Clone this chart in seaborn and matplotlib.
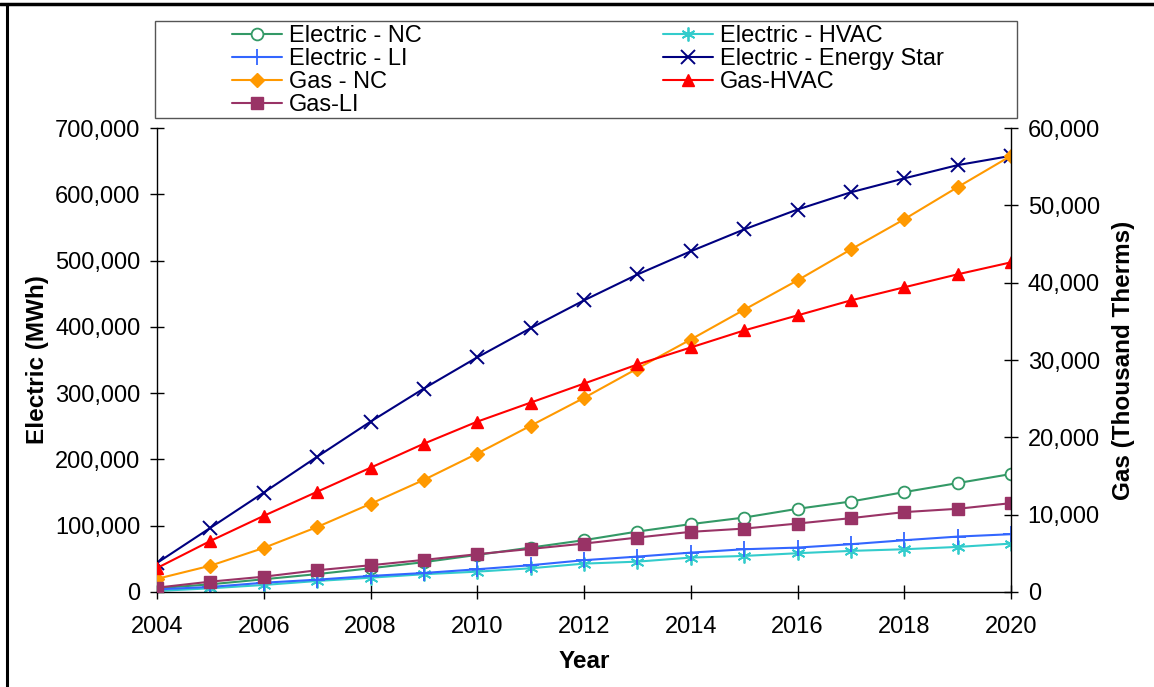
import seaborn as sns
import matplotlib.pyplot as plt
from matplotlib.lines import Line2D
from matplotlib.patches import Rectangle
from matplotlib.ticker import FuncFormatter, MultipleLocator

years = list(range(2004, 2021))

# electric series (MWh, left axis)
elec_nc = [5600, 11600, 19200, 27000, 35800, 45000, 56000, 67000, 78200, 91200,
           102400, 112300, 125500, 136500, 150700, 164300, 178000]
elec_hvac = [1500, 5600, 10600, 16600, 21600, 26800, 30700, 35800, 42800, 45800,
             51900, 54400, 58500, 62000, 64500, 68000, 73000]
elec_li = [4000, 7600, 14000, 18600, 24200, 28700, 34300, 40400, 48000, 53400,
           59400, 64500, 67000, 72100, 78100, 83600, 87200]
elec_es = [43800, 96800, 150000, 204000, 257000, 307000, 354000, 398000, 440000,
           479000, 514000, 547000, 577000, 603000, 624000, 644000, 658000]

# gas series (thousand therms, right axis)
gas_nc = [1700, 3400, 5700, 8400, 11400, 14500, 17900, 21500, 25100, 28900,
          32650, 36500, 40300, 44300, 48200, 52350, 56400]
gas_hvac = [3100, 6600, 9850, 12960, 16070, 19180, 22030, 24490, 26950, 29420,
            31620, 33820, 35770, 37710, 39400, 41080, 42630]
gas_li = [560, 1340, 1980, 2810, 3460, 4150, 4890, 5570, 6260, 7040,
          7780, 8200, 8850, 9550, 10330, 10760, 11490]

sns.set_style("ticks")
plt.rcParams['font.family'] = ['Liberation Sans', 'DejaVu Sans']
plt.rcParams['text.color'] = 'black'
plt.rcParams['axes.labelcolor'] = 'black'

fig = plt.figure(figsize=(11.54, 6.87), dpi=100)
ax = fig.add_axes([157/1154, 1-592/687, (1011-157)/1154, (592-128)/687])
ax2 = ax.twinx()

lw = 1.5
star = (6, 2, 0)

elec = [
    (elec_nc, 'Electric - NC', '#339966', 'o', 8.5, 'white', 1.3),
    (elec_hvac, 'Electric - HVAC', '#33CCCC', star, 10, '#33CCCC', 1.3),
    (elec_li, 'Electric - LI', '#3366FF', '+', 11, '#3366FF', 1.3),
    (elec_es, 'Electric - Energy Star', '#000080', 'x', 10, '#000080', 1.4),
]
gas = [
    (gas_nc, 'Gas - NC', '#FF9900', 'D', 7, '#FF9900', 1),
    (gas_hvac, 'Gas-HVAC', '#FF0000', '^', 9, '#FF0000', 1),
    (gas_li, 'Gas-LI', '#993366', 's', 8, '#993366', 1),
]

handles = {}
for axis, group in [(ax, elec), (ax2, gas)]:
    for vals, name, col, mk, ms, fc, mew in group:
        sns.lineplot(x=years, y=vals, ax=axis, color=col, marker=mk, markersize=ms,
                     markerfacecolor=fc, markeredgecolor=col, markeredgewidth=mew,
                     linewidth=lw, legend=False)
        handles[name] = Line2D([], [], color=col, marker=mk, markersize=ms,
                               markerfacecolor=fc, markeredgecolor=col,
                               markeredgewidth=mew, linewidth=lw)

ax.set_xlim(2004, 2020)
ax.set_ylim(0, 700000)
ax2.set_ylim(0, 60000)
ax.xaxis.set_major_locator(MultipleLocator(2))
ax.yaxis.set_major_locator(MultipleLocator(100000))
ax2.yaxis.set_major_locator(MultipleLocator(10000))
fmt = FuncFormatter(lambda v, p: f'{v:,.0f}')
ax.yaxis.set_major_formatter(fmt)
ax2.yaxis.set_major_formatter(fmt)

for a in (ax, ax2):
    a.spines['top'].set_visible(False)
    for s in a.spines.values():
        s.set_color('black')
        s.set_linewidth(1.0)
ax.spines['right'].set_visible(False)
ax2.spines['left'].set_visible(False)
ax2.spines['bottom'].set_visible(False)

ax.tick_params(axis='both', direction='inout', length=10, width=1, color='black',
               labelcolor='black', labelsize=17, pad=7, left=True, bottom=True)
ax.tick_params(axis='x', pad=12)
ax2.tick_params(axis='y', direction='inout', length=10, width=1, color='black',
                labelcolor='black', labelsize=17, pad=7, right=True)

ax.set_xlabel('Year', fontsize=17.5, fontweight='bold', labelpad=9)
ax.set_ylabel('Electric (MWh)', fontsize=17.5, fontweight='bold', labelpad=4)
ax2.set_ylabel('Gas (Thousand Therms)', fontsize=17.5, fontweight='bold', labelpad=9)

# legend box and two columns
fig.patches.append(Rectangle((155/1154, 1-118/687), (1017-155)/1154, (118-21)/687,
                             transform=fig.transFigure, fill=False,
                             edgecolor='#555555', linewidth=1))
col1 = ['Electric - NC', 'Electric - LI', 'Gas - NC', 'Gas-LI']
col2 = ['Electric - HVAC', 'Electric - Energy Star', 'Gas-HVAC']
for names, x0 in [(col1, 232), (col2, 663)]:
    fig.legend([handles[n] for n in names], names, loc='upper left',
               bbox_to_anchor=(x0/1154, 1-25.5/687), frameon=False, fontsize=17,
               handlelength=2.1, handletextpad=0.3, labelspacing=0.04,
               borderpad=0, borderaxespad=0)

# outer frame (top and left edges)
fig.add_artist(Line2D([0, 1], [1-4/687, 1-4/687], transform=fig.transFigure,
                      color='black', linewidth=2.5))
fig.add_artist(Line2D([6.5/1154, 6.5/1154], [0, 1-4/687], transform=fig.transFigure,
                      color='black', linewidth=2.2))

fig.savefig('out.png', dpi=100)
